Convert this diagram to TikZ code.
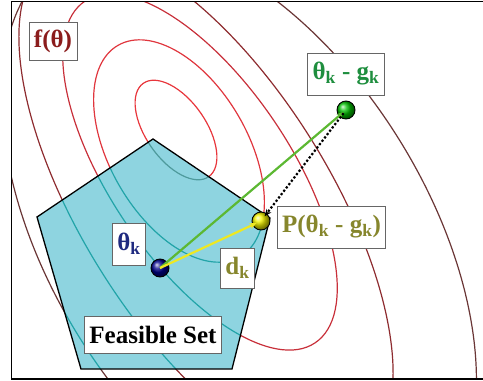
\documentclass[tikz,border=0pt]{standalone}
\usepackage{fontspec}
\setmainfont{Liberation Serif}
\usetikzlibrary{arrows.meta}

\definecolor{ringA}{HTML}{E8363C}
\definecolor{ringB}{HTML}{E0363E}
\definecolor{ringC}{HTML}{C8303A}
\definecolor{ringD}{HTML}{8E2C30}
\definecolor{ringE}{HTML}{6A3636}
\definecolor{tealA}{HTML}{4E9A9C}
\definecolor{tealB}{HTML}{22A4A8}
\definecolor{setfill}{HTML}{8ED4E0}
\definecolor{ftext}{HTML}{8B1C1C}
\definecolor{gtext}{HTML}{1E8E3E}
\definecolor{ptext}{HTML}{86862C}
\definecolor{ktext}{HTML}{1F2A80}
\definecolor{garrow}{HTML}{5CB832}
\definecolor{yarrow}{HTML}{EEE822}

\begin{document}
\begin{tikzpicture}[x=1pt,y=-1pt,
  ring/.style={line width=1.2pt},
  tag/.style={draw=black!60, fill=white, line width=0.8pt, inner xsep=5pt, inner ysep=3pt,
    minimum height=40pt, font=\fontsize{25}{27}\selectfont\bfseries},
  dot/.style={circle, draw=black, line width=0.9pt, minimum size=18pt, inner sep=0pt},
  move/.style={line width=2.2pt, -{Stealth[length=7pt,width=6pt]}}]

  \useasboundingbox (0,0) rectangle (483,381);

  % Corners of the feasible set
  \coordinate (P1) at (153,139);
  \coordinate (P2) at (270,218);
  \coordinate (P3) at (232,369);
  \coordinate (P4) at (81,369);
  \coordinate (P5) at (37,217);

  % Level sets: centre x/centre y/half axes/tilt/colour/colour inside the set
  \def\rings{176/130/57/30/55/ringA/tealA, 179/151/122/69/60/ringB/tealB,
    200/172/206/90/56/ringC/tealB, 206/205/292/124/58/ringD/tealB,
    239/238/332/188/58/ringE/tealB}

  \begin{scope}
    \clip (11.5,1.5) rectangle (483,379);
    \foreach \cx/\cy/\a/\b/\t/\col/\tcol in \rings
      \draw[ring, \col, rotate around={-\t:(\cx,\cy)}] (\cx,\cy) ellipse [x radius=\a, y radius=\b];

    % Feasible set
    \fill[setfill] (P1) -- (P2) -- (P3) -- (P4) -- (P5) -- cycle;
    \begin{scope}
      \clip (P1) -- (P2) -- (P3) -- (P4) -- (P5) -- cycle;
      \foreach \cx/\cy/\a/\b/\t/\col/\tcol in \rings
        \draw[ring, \tcol, rotate around={-\t:(\cx,\cy)}] (\cx,\cy) ellipse [x radius=\a, y radius=\b];
    \end{scope}
    \draw[line width=1.3pt, line join=miter] (P1) -- (P2) -- (P3) -- (P4) -- (P5) -- cycle;
  \end{scope}

  % Frame
  \draw[line width=1.8pt] (483,1.5) -- (11.5,1.5) -- (11.5,379) -- (483,379);

  % Iterates
  \node[dot, ball color=blue!55!black] (thk) at (160,268) {};
  \node[dot, ball color=green!75!black] (grad) at (346,110) {};
  \node[dot, ball color=yellow!90!olive] (proj) at (261,221) {};

  % Steps
  \draw[move, garrow, shorten >=3pt] (thk.center) -- (grad.center);
  \draw[move, yarrow, shorten >=5pt] (thk.center) -- (proj.center);
  \draw[move, black, dotted, shorten <=4pt, shorten >=6pt] (grad.center) -- (proj.center);

  % Labels
  \node[tag, text=ftext, minimum height=38pt] (fth) at (53,41) {f(θ)};
  \node[tag, text=gtext, minimum height=42pt] (lgrad) at (346,74) {θ\textsubscript{k} - g\textsubscript{k}};
  \node[tag, text=ptext, minimum height=42pt] (lproj) at (331.5,227) {P(θ\textsubscript{k} - g\textsubscript{k})};
  \node[tag, text=ptext] (ldir) at (237.5,268) {d\textsubscript{k}};
  \node[tag, text=ktext, minimum height=42pt] (lthk) at (129,244) {θ\textsubscript{k}};
  \node[tag, text=black, minimum height=37pt] (lset) at (153,334.5) {Feasible Set};

\end{tikzpicture}
\end{document}
